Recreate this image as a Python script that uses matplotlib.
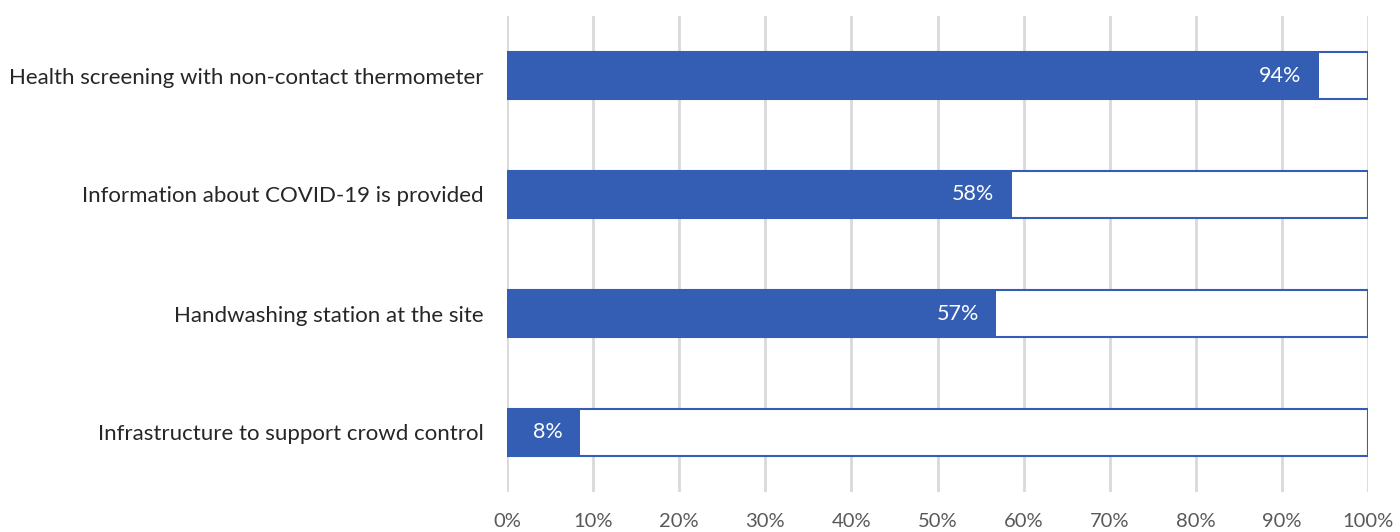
import matplotlib
matplotlib.use("Agg")
import matplotlib.pyplot as plt
import numpy as np

categories = [
    "Health screening with non-contact thermometer",
    "Information about COVID-19 is provided",
    "Handwashing station at the site",
    "Infrastructure to support crowd control",
]
values = [94.3, 58.6, 56.8, 8.5]
labels = ["94%", "58%", "57%", "8%"]
xticks = [0, 10, 20, 30, 40, 50, 60, 70, 80, 90, 100]
xticklabels = [f"{t}%" for t in xticks]

BLUE = "#335EB3"
plt.rcParams['font.family'] = ['Lato', 'DejaVu Sans']

fig = plt.figure(figsize=(14, 5.32), dpi=100)
ax = fig.add_axes([507/1400, 1 - 492/532, (1368-507)/1400, (492-16)/532])

y = np.arange(len(categories))
h = 0.40
ax.barh(y, [100]*len(y), height=h, facecolor="white", edgecolor=BLUE, linewidth=1.5, zorder=2)
ax.barh(y, values, height=h, color=BLUE, edgecolor="none", zorder=3)
for yi, v, lab in zip(y, values, labels):
    ax.annotate(lab, (v, yi), xytext=(-12.5, 0), textcoords="offset points",
                ha="right", va="center", color="white", fontsize=15.5, zorder=4)

ax.set_xlim(0, 100)
ax.set_ylim(len(y) - 0.5, -0.5)
ax.set_yticks(y)
ax.set_yticklabels(categories, fontsize=16, color="#262626")
ax.set_xticks(xticks)
ax.set_xticklabels(xticklabels, fontsize=14.5, color="#595959")
ax.tick_params(axis="both", length=0)
ax.tick_params(axis="y", pad=17)
ax.tick_params(axis="x", pad=15)
ax.xaxis.grid(True, color="#D9D9D9", linewidth=2)
ax.set_axisbelow(True)
for s in ax.spines.values():
    s.set_visible(False)

fig.savefig("out.png", dpi=100)
